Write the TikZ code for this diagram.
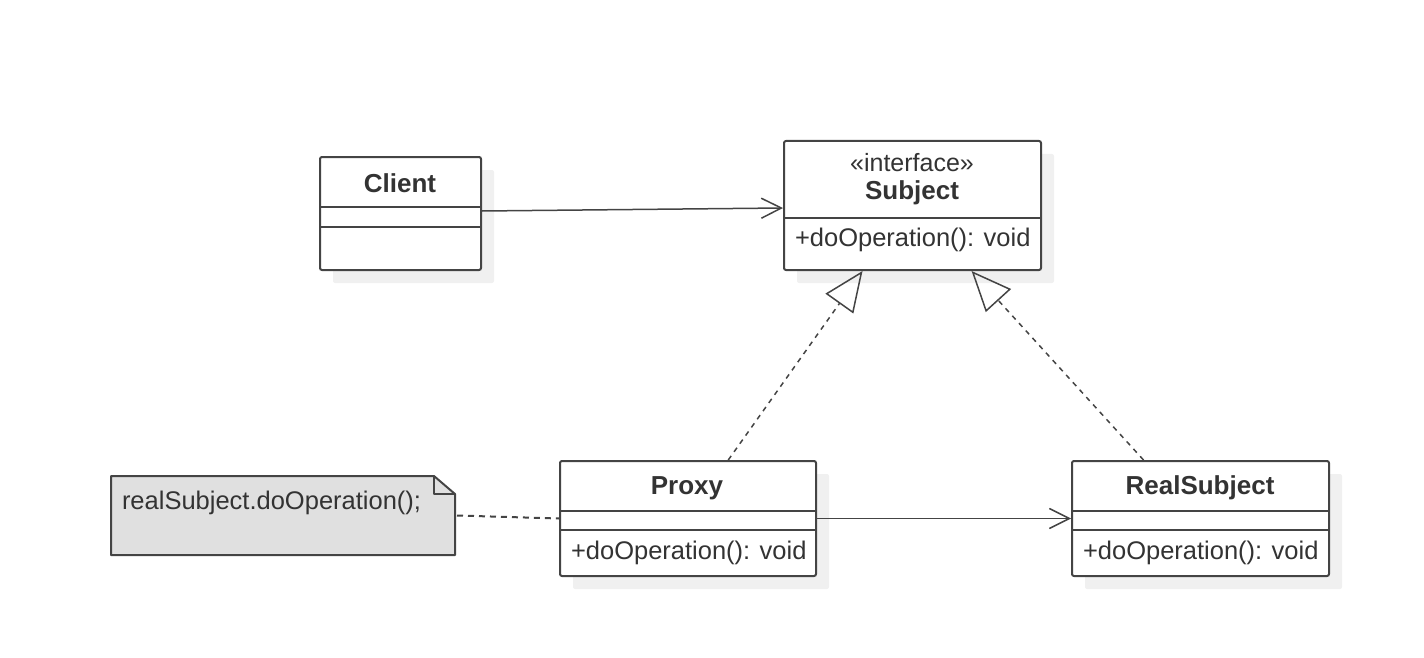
\documentclass[tikz,border=0pt]{standalone}
\usepackage{fontspec}
\setmainfont{Liberation Sans}
\usetikzlibrary{arrows.meta,shadows,calc}
\definecolor{umlline}{HTML}{444444}
\definecolor{umltext}{HTML}{333333}
\definecolor{umlshadow}{HTML}{F0F0F0}
\definecolor{notefill}{HTML}{E0E0E0}
\tikzset{
every picture/.style={x=1pt, y=-1pt, line width=2pt}
}
\tikzset{
  classbox/.style 2 args={
    draw=umlline, fill=white, rounded corners=2pt, anchor=north west,
    inner sep=0pt, minimum width=#1, minimum height=#2,
    drop shadow={shadow xshift=13pt, shadow yshift=-13pt, fill=umlshadow, opacity=1}
  },
  notebox/.style={anchor=north west, inner sep=0pt, minimum width=342pt, minimum height=77pt},
  classname/.style={font=\fontsize{26}{30}\selectfont\bfseries, text=umltext, inner sep=0pt},
  stereotype/.style={font=\fontsize{25}{30}\selectfont, text=umltext, inner sep=0pt},
  member/.style={font=\fontsize{25.5}{30}\selectfont, text=umltext, inner sep=0pt, anchor=west},
  assoc/.style={draw=umlline, line width=1.5pt, -{Straight Barb[length=20pt, width=20pt, line width=1.5pt]}},
  realize/.style={draw=umlline, line width=1.5pt, dash pattern=on 5pt off 5pt,
    -{Triangle[open, length=40pt, width=34pt, line width=1.5pt]}},
  notelink/.style={draw=umlline, line width=2pt, dash pattern=on 6pt off 5pt}
}

\begin{document}
\begin{tikzpicture}
    \useasboundingbox (0,0) rectangle (1424,658);

    % classes
    \node[classbox={161pt}{113pt}] (client) at (319,156) {};
    \node[classbox={257pt}{129pt}] (subject) at (783,140) {};
    \node[classbox={256pt}{115pt}] (proxy) at (559,460) {};
    \node[classbox={257pt}{115pt}] (realsubject) at (1071,460) {};

    \draw[umlline] (client.west |- 0,207) -- (client.east |- 0,207);
    \draw[umlline] (client.west |- 0,227) -- (client.east |- 0,227);
    \draw[umlline] (subject.west |- 0,218) -- (subject.east |- 0,218);
    \foreach \cls in {proxy, realsubject} {
      \draw[umlline] (\cls.west |- 0,511) -- (\cls.east |- 0,511);
      \draw[umlline] (\cls.west |- 0,530) -- (\cls.east |- 0,530);
    }

    \node[classname] (client-name) at (400,183) {Client};
    \node[stereotype] (subject-stereo) at (912,163) {«interface»};
    \node[classname] (subject-name) at (912,193) {Subject};
    \node[member] (subject-op) at (794,240) {+doOperation(): void};
    \node[classname] (proxy-name) at (687,488) {Proxy};
    \node[member] (proxy-op) at (570,553) {+doOperation(): void};
    \node[classname] (realsubject-name) at (1200,488) {RealSubject};
    \node[member] (realsubject-op) at (1082,553) {+doOperation(): void};

    % note
    \node[notebox] (note) at (111,476) {};
    \draw[umlline, fill=notefill, line join=round]
      (note.north west) -- ($(note.north east)+(-21,0)$) -- ($(note.north east)+(0,18)$)
      -- (note.south east) -- (note.south west) -- cycle;
    \draw[umlline, line join=round]
      ($(note.north east)+(-21,0)$) -- ($(note.north east)+(-21,18)$) -- ($(note.north east)+(0,18)$);
    \node[member] (note-text) at (121,503) {realSubject.doOperation();};

    % connectors
    \draw[assoc] ([yshift=2.5pt]client.east) -- ([yshift=-2.5pt]subject.west);
    \draw[assoc] (proxy.east) -- (realsubject.west);
    \draw[realize] ($(proxy.north west)!0.656!(proxy.north east)$)
      -- ($(subject.south west)!0.307!(subject.south east)$);
    \draw[realize] ($(realsubject.north west)!0.28!(realsubject.north east)$)
      -- ($(subject.south west)!0.728!(subject.south east)$);
    \draw[notelink] ([xshift=2pt]note.east) -- (proxy.west);
\end{tikzpicture}
\end{document}
